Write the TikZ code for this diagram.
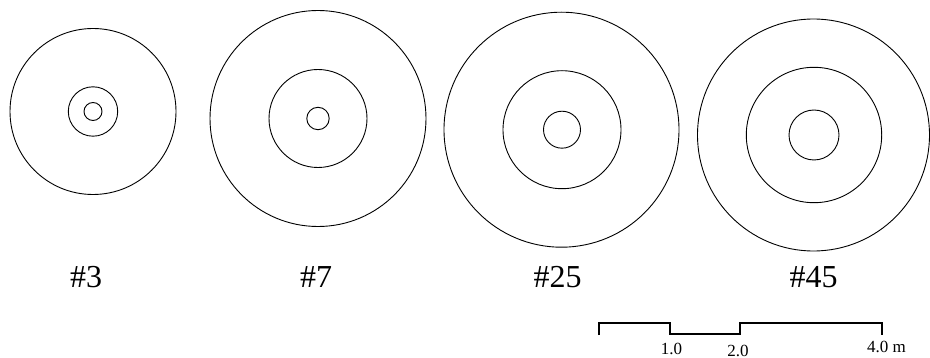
\documentclass[tikz,border=0pt]{standalone}
\usepackage{fontspec}
\setmainfont{Liberation Serif}
\begin{document}
\begin{tikzpicture}[x=1pt,y=-1pt,
  ring/.style={draw=black,line width=0.9pt},
  bar/.style={draw=black,line width=2pt,line cap=butt,line join=miter},
  biglabel/.style={font=\fontsize{32}{36}\selectfont,inner sep=0pt,anchor=base},
  smalllabel/.style={font=\fontsize{17}{20}\selectfont,inner sep=0pt,anchor=base}]
\useasboundingbox (0,0) rectangle (930,358);
% #3
\draw[ring] (93,111.5) circle (83);
\draw[ring] (93,111.5) circle (24.7);
\draw[ring] (93,111.5) circle (9);
% #7
\draw[ring] (318,118.5) circle (108);
\draw[ring] (318,118.5) circle (49);
\draw[ring] (318,118.5) circle (11.2);
% #25
\draw[ring] (561.5,129.7) circle (117.5);
\draw[ring] (562,129.7) circle (59);
\draw[ring] (562,129.7) circle (18.5);
% #45
\draw[ring] (813.5,135) circle (116);
\draw[ring] (814,135) circle (67.7);
\draw[ring] (814,135) circle (25);
% labels
\node[biglabel] (l3) at (86,288) {\#3};
\node[biglabel] (l7) at (316,288) {\#7};
\node[biglabel] (l25) at (557.5,288) {\#25};
\node[biglabel] (l45) at (813.5,288) {\#45};
% scale bar
\coordinate (s0) at (599,322.7);
\coordinate (s1) at (669.5,322.7);
\coordinate (s2) at (739.5,322.7);
\coordinate (s4) at (881.5,322.7);
\draw[bar] ([yshift=-12.5]s0) -- (s0) -- (s1) -- ([yshift=-11.5]s1) -- ([yshift=-11.5]s2) -- (s2) -- (s4) -- ([yshift=-12.5]s4);
\node[smalllabel] (t1) at (671.5,355) {1.0};
\node[smalllabel] (t2) at (738,356) {2.0};
\node[smalllabel,anchor=base west] (t4) at (867,352.7) {4.0 m};
\end{tikzpicture}
\end{document}
